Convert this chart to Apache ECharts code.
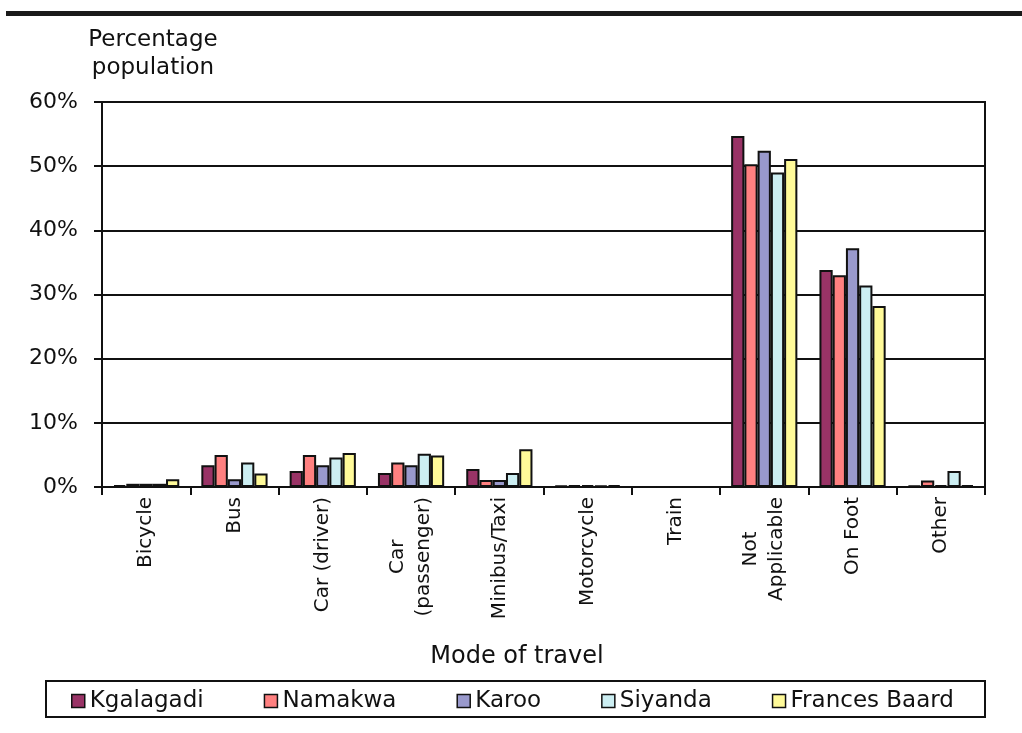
<!DOCTYPE html>
<html>
<head>
<meta charset="utf-8">
<script src="https://cdn.jsdelivr.net/npm/echarts@6/dist/echarts.min.js"></script>
<style>
  html, body { margin: 0; padding: 0; background: #ffffff; }
  #chart { width: 1022px; height: 733px; }
</style>
</head>
<body>
<div id="chart"></div>
<script>
// Modes of travel (x categories); "\n" splits the two-line labels
const categories = ['Bicycle', 'Bus', 'Car (driver)', 'Car\n(passenger)', 'Minibus/Taxi',
  'Motorcycle', 'Train', 'Not\nApplicable', 'On Foot', 'Other'];

// Share of population per district, in percent
const kgalagadi    = [0.3, 3.4, 2.5, 2.2, 2.8, 0.2, 0, 54.7, 33.8, 0.2];
const namakwa      = [0.5, 5.0, 5.0, 3.8, 1.1, 0.3, 0, 50.3, 33.0, 1.0];
const karoo        = [0.5, 1.2, 3.4, 3.4, 1.1, 0.3, 0, 52.4, 37.2, 0.3];
const siyanda      = [0.5, 3.8, 4.6, 5.2, 2.2, 0.2, 0, 49.0, 31.4, 2.5];
const francesBaard = [1.2, 2.1, 5.3, 4.9, 5.9, 0.3, 0, 51.1, 28.2, 0.3];

const seriesNames = ['Kgalagadi', 'Namakwa', 'Karoo', 'Siyanda', 'Frances Baard'];
const seriesData = [kgalagadi, namakwa, karoo, siyanda, francesBaard];
const seriesColors = ['#993366', '#FF8080', '#9999CC', '#CCEEF2', '#FFFA99'];

const FONT = '"DejaVu Sans", Verdana, sans-serif';
const INK = '#111111';

const chart = echarts.init(document.getElementById('chart'), null, { renderer: 'canvas' });

chart.setOption({
  animation: false,
  backgroundColor: '#ffffff',
  grid: {
    left: 102, right: 37, top: 102, bottom: 246,
    show: true, borderColor: INK, borderWidth: 2, backgroundColor: 'transparent'
  },
  xAxis: {
    type: 'category',
    data: categories,
    axisLine: { lineStyle: { color: INK, width: 2 } },
    axisTick: { show: true, length: 8, lineStyle: { color: INK, width: 2 } },
    axisLabel: {
      rotate: 90,
      margin: 10,
      interval: 0,
      color: INK,
      fontFamily: FONT,
      fontSize: 20,
      lineHeight: 26,
      formatter: function (v) {
        if (v.indexOf('\n') < 0) return v;
        return v.split('\n').map(function (s) { return '{m|' + s + '}'; }).join('\n');
      },
      rich: {
        m: { align: 'center', fontFamily: FONT, fontSize: 20, lineHeight: 26, color: INK }
      }
    }
  },
  yAxis: {
    type: 'value',
    min: 0, max: 60, interval: 10,
    axisLine: { show: true, lineStyle: { color: INK, width: 2 } },
    axisTick: { show: true, length: 8, lineStyle: { color: INK, width: 2 } },
    splitLine: { show: true, lineStyle: { color: INK, width: 2 } },
    axisLabel: {
      formatter: '{value}%',
      margin: 24,
      color: INK,
      fontFamily: FONT,
      fontSize: 22
    }
  },
  legend: {
    data: seriesNames,
    left: 71,
    top: 688,
    padding: 0,
    itemGap: 60,
    itemWidth: 13,
    itemHeight: 13,
    icon: 'rect',
    itemStyle: { borderColor: INK, borderWidth: 1.5 },
    textStyle: { color: INK, fontFamily: FONT, fontSize: 23, lineHeight: 26 }
  },
  graphic: [
    { type: 'rect', shape: { x: 6, y: 11, width: 1016, height: 5 }, style: { fill: '#1a1a1a' } },
    { type: 'rect', shape: { x: 46, y: 681, width: 939, height: 36 },
      style: { fill: 'none', stroke: INK, lineWidth: 2 } },
    { type: 'text', x: 153, y: 54,
      style: { text: 'Percentage\npopulation', fill: INK, font: '23px ' + FONT,
        align: 'center', verticalAlign: 'middle', lineHeight: 28 } },
    { type: 'text', x: 517, y: 657,
      style: { text: 'Mode of travel', fill: INK, font: '24px ' + FONT,
        align: 'center', verticalAlign: 'middle' } }
  ],
  series: seriesNames.map(function (name, i) {
    return {
      name: name,
      type: 'bar',
      data: seriesData[i],
      barGap: '0%',
      barCategoryGap: '25%',
      itemStyle: { color: seriesColors[i], borderColor: INK, borderWidth: 2 }
    };
  })
});
</script>
</body>
</html>
